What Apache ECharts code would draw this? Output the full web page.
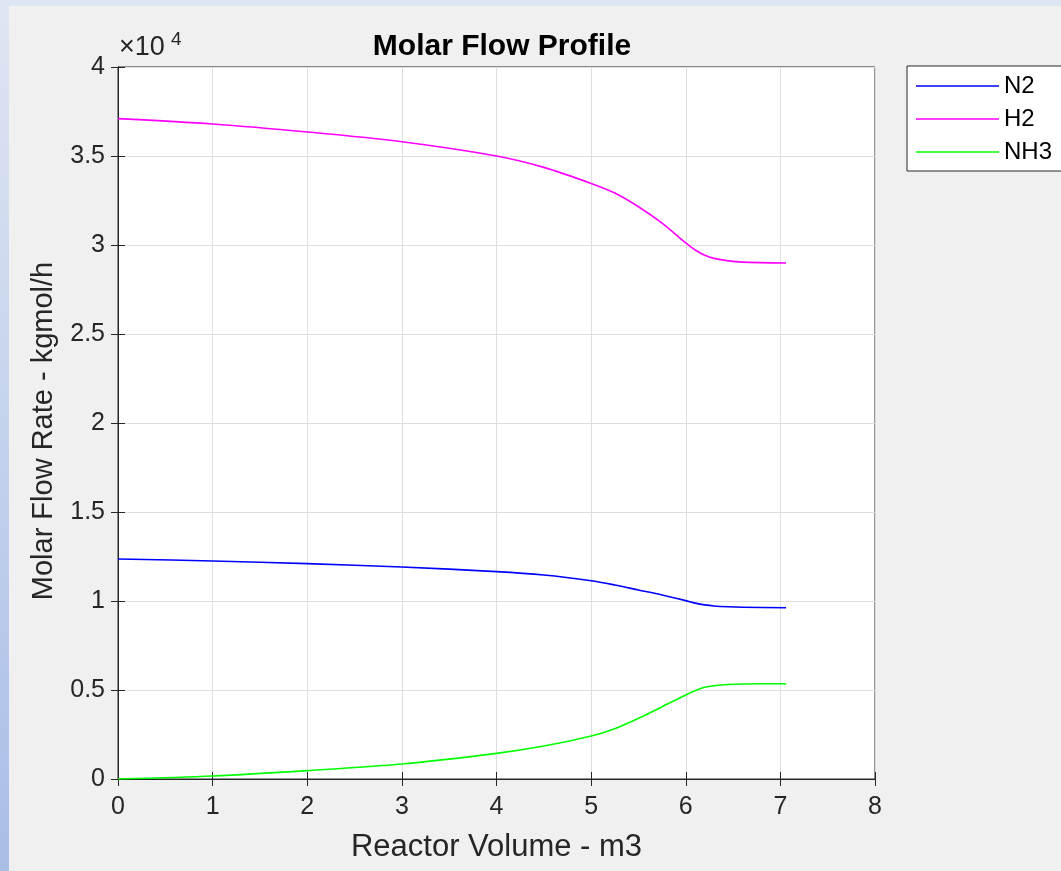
<!DOCTYPE html>
<html>
<head>
<meta charset="utf-8">
<script src="https://cdn.jsdelivr.net/npm/echarts@6/dist/echarts.min.js"></script>
<style>
  html, body { margin: 0; padding: 0; background: #f0f0f0; }
  #chart { width: 1061px; height: 871px; }
</style>
</head>
<body>
<div id="chart"></div>
<script>
// Molar Flow Profile

const volume = [0, 1, 2, 3, 4, 4.5, 5, 5.25, 5.5, 5.75, 6, 6.1, 6.2, 6.3, 6.45, 6.6, 7.06];
const n2 = [12360, 12250, 12100, 11910, 11650, 11460, 11140, 10900, 10620, 10340, 10020, 9880, 9780, 9720, 9675, 9650, 9620];
const h2 = [37100, 36800, 36350, 35800, 35000, 34360, 33460, 32920, 32150, 31230, 30120, 29720, 29430, 29250, 29110, 29040, 28990];
const nh3 = [0, 170, 470, 840, 1440, 1850, 2420, 2830, 3410, 4060, 4720, 4960, 5150, 5240, 5310, 5340, 5350];
const xTicks = [0, 1, 2, 3, 4, 5, 6, 7, 8];
const yTickLabels = ['0', '0.5', '1', '1.5', '2', '2.5', '3', '3.5', '4'];

const FONT = 'Liberation Sans';
const INK = '#262626';

function pairs(ys) {
    return volume.map((v, i) => [v, ys[i]]);
}

function mkSeries(name, ys, color) {
    return {
        name: name,
        type: 'line',
        data: pairs(ys),
        symbol: 'none',
        smooth: 0.3,
        lineStyle: { color: color, width: 1.6 },
        itemStyle: { color: color },
        animation: false
    };
}

const chart = echarts.init(document.getElementById('chart'));

let option = {
    backgroundColor: '#f0f0f0',
    animation: false,
    title: {
        text: 'Molar Flow Profile',
        left: 497,
        top: 27,
        textAlign: 'center',
        textStyle: { fontFamily: FONT, fontSize: 30, fontWeight: 'bold', color: '#000' }
    },
    legend: {
        orient: 'vertical',
        left: 907,
        top: 66,
        padding: [7, 40, 6, 9],
        icon: 'rect',
        itemWidth: 83,
        itemHeight: 1.6,
        itemGap: 7,
        backgroundColor: '#fff',
        borderColor: INK,
        borderWidth: 1,
        borderRadius: 0,
        textStyle: { fontFamily: FONT, fontSize: 24, lineHeight: 26, color: '#000' },
        data: ['N2', 'H2', 'NH3']
    },
    grid: {
        left: 118,
        right: 186,
        top: 67,
        bottom: 92,
        show: true,
        backgroundColor: '#fff',
        borderColor: INK,
        borderWidth: 1
    },
    xAxis: [{
        type: 'value',
        min: xTicks[0],
        max: xTicks[xTicks.length - 1],
        interval: 1,
        name: 'Reactor Volume - m3',
        nameLocation: 'middle',
        nameGap: 53,
        nameTextStyle: { fontFamily: FONT, fontSize: 31, color: INK },
        axisLine: { lineStyle: { color: INK } },
        axisTick: { inside: true, length: 7, lineStyle: { color: INK } },
        axisLabel: { fontFamily: FONT, fontSize: 25, color: INK, margin: 16 },
        splitLine: { lineStyle: { color: '#dedede' } }
    }, {
        type: 'value',
        position: 'top',
        min: xTicks[0],
        max: xTicks[xTicks.length - 1],
        interval: 1,
        axisLine: { lineStyle: { color: INK } },
        axisTick: { inside: true, length: 7, lineStyle: { color: INK } },
        axisLabel: { show: false },
        splitLine: { show: false }
    }],
    yAxis: [{
        type: 'value',
        min: 0,
        max: 40000,
        interval: 5000,
        name: 'Molar Flow Rate - kgmol/h',
        nameLocation: 'middle',
        nameGap: 60,
        nameTextStyle: { fontFamily: FONT, fontSize: 29, color: INK, padding: [0, 16, 0, 0] },
        axisLine: { show: true, lineStyle: { color: INK } },
        axisTick: { show: true, inside: true, length: 7, lineStyle: { color: INK } },
        axisLabel: {
            fontFamily: FONT, fontSize: 25, color: INK, margin: 13,
            formatter: (v) => yTickLabels[Math.round(v / 5000)]
        },
        splitLine: { lineStyle: { color: '#dedede' } }
    }, {
        type: 'value',
        position: 'right',
        min: 0,
        max: 40000,
        interval: 5000,
        axisLine: { show: true, lineStyle: { color: INK } },
        axisTick: { show: true, inside: true, length: 7, lineStyle: { color: INK } },
        axisLabel: { show: false },
        splitLine: { show: false }
    }],
    graphic: [
        // window frame strips
        {
            type: 'rect', left: 0, top: 0, z: 100,
            shape: { width: 1061, height: 6 },
            style: { fill: '#dfe6f3' }
        },
        {
            type: 'rect', left: 0, top: 0, z: 100,
            shape: { width: 9, height: 871 },
            style: {
                fill: new echarts.graphic.LinearGradient(0, 0, 0, 1, [
                    { offset: 0, color: '#dfe6f3' },
                    { offset: 1, color: '#a9bee6' }
                ])
            }
        },
        // exponent
        {
            type: 'text', left: 119, top: 34, z: 100,
            style: { text: '×10', fontFamily: FONT, fontSize: 27, fill: INK }
        },
        {
            type: 'text', left: 171, top: 30, z: 100,
            style: { text: '4', fontFamily: FONT, fontSize: 19, fill: INK }
        }
    ],
    series: [
        mkSeries('N2', n2, '#0000ff'),
        mkSeries('H2', h2, '#ff00ff'),
        mkSeries('NH3', nh3, '#00ff00')
    ]
};

chart.setOption(option);
</script>
</body>
</html>
